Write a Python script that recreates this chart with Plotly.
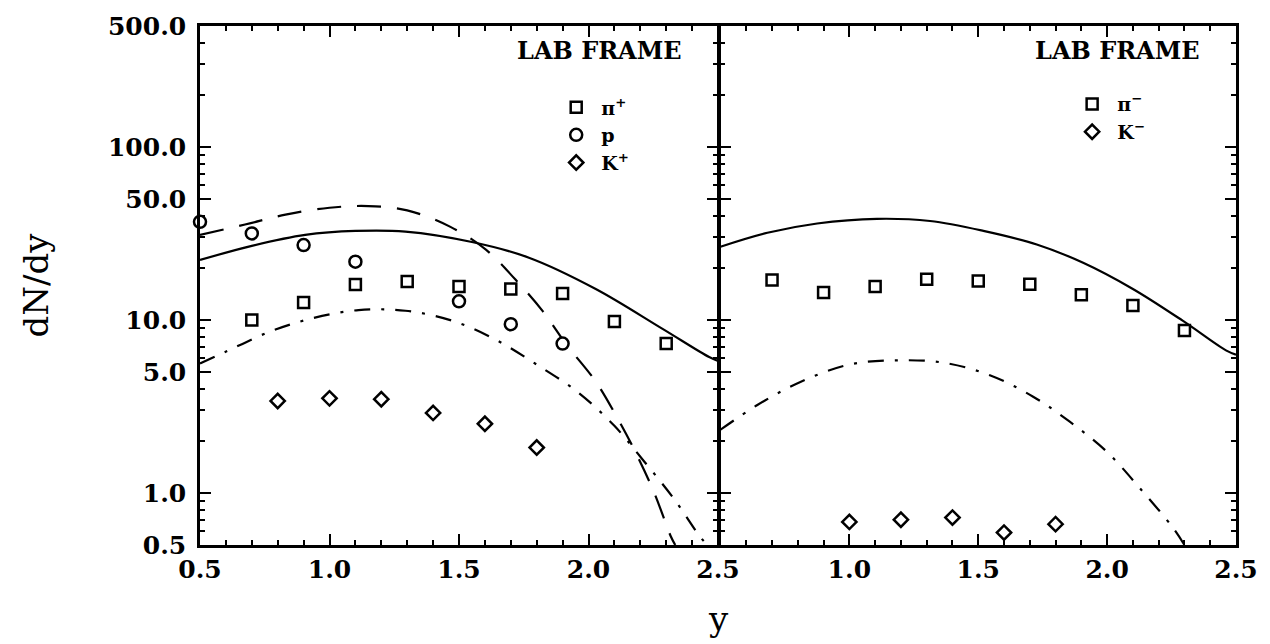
import plotly.graph_objects as go

# ---------------- data ----------------
# left panel (positive particles)
pip_x = [0.7, 0.9, 1.1, 1.3, 1.5, 1.7, 1.9, 2.1, 2.3]
pip_y = [10.0, 12.6, 16.0, 16.7, 15.6, 15.1, 14.2, 9.8, 7.3]

p_x = [0.5, 0.7, 0.9, 1.1, 1.5, 1.7, 1.9]
p_y = [36.9, 31.6, 27.1, 21.7, 12.8, 9.45, 7.3]

kp_x = [0.8, 1.0, 1.2, 1.4, 1.6, 1.8]
kp_y = [3.40, 3.52, 3.48, 2.90, 2.51, 1.83]

# left panel model curves
solid_l_x = [0.5, 0.7, 0.906, 1.1, 1.293, 1.55, 1.77, 2.028, 2.286, 2.466, 2.5]
solid_l_y = [22.2, 26.8, 31.0, 32.7, 32.4, 28.2, 22.9, 15.1, 8.88, 6.1, 5.8]

dash_l_x = [0.5, 0.674, 0.83, 1.0, 1.15, 1.3, 1.467, 1.605, 1.718, 1.824, 1.915,
            2.028, 2.112, 2.183, 2.254, 2.318, 2.335]
dash_l_y = [31.0, 35.6, 40.6, 44.5, 45.5, 43.0, 34.5, 25.4, 17.1, 11.2, 7.2,
            4.4, 2.7, 1.7, 1.0, 0.56, 0.5]

dd_l_x = [0.5, 0.597, 0.765, 0.932, 1.112, 1.293, 1.473, 1.64, 1.795, 1.957,
          2.099, 2.215, 2.331, 2.434, 2.46]
dd_l_y = [5.6, 6.52, 8.5, 10.2, 11.4, 11.3, 9.9, 7.71, 5.58, 3.84,
          2.45, 1.52, 0.92, 0.55, 0.5]

# right panel (negative particles)
pim_x = [0.7, 0.9, 1.1, 1.3, 1.5, 1.7, 1.9, 2.1, 2.3]
pim_y = [17.0, 14.4, 15.6, 17.2, 16.8, 16.1, 14.0, 12.1, 8.69]

km_x = [1.0, 1.2, 1.4, 1.6, 1.8]
km_y = [0.68, 0.70, 0.72, 0.59, 0.66]

solid_r_x = [0.5, 0.682, 0.875, 1.107, 1.313, 1.52, 1.727, 1.907, 2.1, 2.293, 2.461, 2.5]
solid_r_y = [26.5, 31.9, 36.1, 38.4, 37.3, 32.7, 27.3, 21.4, 15.1, 9.9, 6.67, 6.3]

dd_r_x = [0.5, 0.643, 0.81, 1.004, 1.184, 1.365, 1.545, 1.713, 1.855, 1.997,
          2.126, 2.255, 2.30]
dd_r_y = [2.32, 3.22, 4.38, 5.54, 5.84, 5.66, 4.79, 3.6, 2.58, 1.74,
          1.07, 0.63, 0.5]

# axis ticks
y_major = [0.5, 1, 5, 10, 50, 100, 500]
y_major_text = ["0.5", "1.0", "5.0", "10.0", "50.0", "100.0", "500.0"]
y_minor = [0.6, 0.7, 0.8, 0.9, 2, 3, 4, 6, 7, 8, 9, 20, 30, 40, 60, 70, 80, 90,
           200, 300, 400]
x_left_ticks = [0.5, 1.0, 1.5, 2.0, 2.5]
x_left_text = ["0.5", "1.0", "1.5", "2.0", "2.5"]
x_right_ticks = [1.0, 1.5, 2.0, 2.5]
x_right_text = ["1.0", "1.5", "2.0", "2.5"]

# ---------------- figure ----------------
SERIF = "DejaVu Serif"
BLACK = "black"
DASH = "24px,16px"
DASHDOT = "16px,11px,3px,11px"

fig = go.Figure()

def curve(x, y, dash, xa, ya):
    fig.add_trace(go.Scatter(x=x, y=y, mode="lines", xaxis=xa, yaxis=ya,
                             line=dict(color=BLACK, width=2.2, dash=dash, shape="spline",
                                       smoothing=1.0),
                             showlegend=False, hoverinfo="skip"))

curve(solid_l_x, solid_l_y, "solid", "x", "y")
curve(dash_l_x, dash_l_y, DASH, "x", "y")
curve(dd_l_x, dd_l_y, DASHDOT, "x", "y")
curve(solid_r_x, solid_r_y, "solid", "x2", "y2")
curve(dd_r_x, dd_r_y, DASHDOT, "x2", "y2")

def pts(x, y, symbol, size, name, xa, ya, legend):
    fig.add_trace(go.Scatter(x=x, y=y, mode="markers", xaxis=xa, yaxis=ya, name=name,
                             marker=dict(symbol=symbol, size=size, color="white",
                                         line=dict(color=BLACK, width=2.5)),
                             legend=legend, cliponaxis=False))

pts(pip_x, pip_y, "square", 11, "<b>π<sup>+</sup></b>", "x", "y", "legend")
pts(p_x, p_y, "circle", 12, "<b>p</b>", "x", "y", "legend")
pts(kp_x, kp_y, "diamond", 11, "<b>K<sup>+</sup></b>", "x", "y", "legend")
pts(pim_x, pim_y, "square", 11, "<b>π<sup>−</sup></b>", "x2", "y2", "legend2")
pts(km_x, km_y, "diamond", 11, "<b>K<sup>−</sup></b>", "x2", "y2", "legend2")

tickfont = dict(family=SERIF, size=25, color=BLACK, weight="bold")

xcommon = dict(range=[0.5, 2.5], showline=True, linecolor=BLACK, linewidth=2.5,
               mirror="ticks", ticks="inside", ticklen=11, tickwidth=2, tickcolor=BLACK,
               showgrid=False, zeroline=False, tickfont=tickfont, tickmode="array",
               minor=dict(dtick=0.1, tick0=0.5, ticks="inside", ticklen=5,
                          tickwidth=1.5, tickcolor=BLACK, showgrid=False))
ycommon = dict(type="log", range=[-0.30103, 2.69897], showline=True, linecolor=BLACK,
               linewidth=2.5, mirror="ticks", ticks="inside", ticklen=11, tickwidth=2,
               tickcolor=BLACK, showgrid=False, zeroline=False, tickfont=tickfont,
               tickmode="array", tickvals=y_major, ticktext=y_major_text,
               minor=dict(tickmode="array", tickvals=y_minor, ticks="inside", ticklen=5,
                          tickwidth=1.5, tickcolor=BLACK, showgrid=False))

legfont = dict(family=SERIF, size=19, color=BLACK)

fig.update_layout(
    width=1270, height=644,
    margin=dict(l=200, r=34, t=18, b=99),
    paper_bgcolor="white", plot_bgcolor="white",
    font=dict(family=SERIF, color=BLACK),
    xaxis=dict(domain=[0, 0.5], anchor="y", tickvals=x_left_ticks,
               ticktext=x_left_text, **xcommon),
    xaxis2=dict(domain=[0.5024, 1], anchor="y2", tickvals=x_right_ticks,
                ticktext=x_right_text, **xcommon),
    yaxis=dict(domain=[0, 1], anchor="x", ticklabelstandoff=6,
               title=dict(text="dN/dy", font=dict(family=SERIF, size=34, color=BLACK),
                          standoff=50),
               **ycommon),
    yaxis2=dict(domain=[0, 1], anchor="x2", matches="y", showticklabels=False, **ycommon),
    legend=dict(x=0.339, y=0.88, xanchor="left", yanchor="top", bgcolor="rgba(0,0,0,0)",
                font=legfont, tracegroupgap=0, itemwidth=40),
    legend2=dict(x=0.837, y=0.886, xanchor="left", yanchor="top", bgcolor="rgba(0,0,0,0)",
                 font=legfont, tracegroupgap=0, itemwidth=40),
    annotations=[
        dict(text="<b>LAB FRAME</b>", xref="x domain", yref="y domain", x=0.935, y=0.953,
             xanchor="right", yanchor="middle", showarrow=False,
             font=dict(family=SERIF, size=24, color=BLACK)),
        dict(text="<b>LAB FRAME</b>", xref="x2 domain", yref="y2 domain", x=0.935, y=0.953,
             xanchor="right", yanchor="middle", showarrow=False,
             font=dict(family=SERIF, size=24, color=BLACK)),
        dict(text="y", xref="paper", yref="paper", x=0.5, y=-0.1, xanchor="center",
             yanchor="top", showarrow=False,
             font=dict(family=SERIF, size=34, color=BLACK)),
    ],
)

fig.write_html("out.html")
